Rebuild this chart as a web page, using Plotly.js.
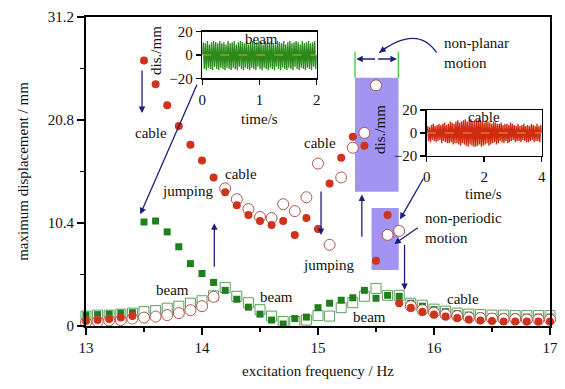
<!DOCTYPE html>
<html>
<head>
<meta charset="utf-8">
<script src="https://cdn.plot.ly/plotly-3.0.1.min.js"></script>
<style>html,body{margin:0;padding:0;background:#fff}#chart{width:565px;height:389px}</style>
</head>
<body>
<div id="chart"></div>
<script>
// Excitation frequency (Hz)
const freq = [13.0,13.1,13.2,13.3,13.4,13.5,13.6,13.7,13.8,13.9,14.0,14.1,14.2,14.3,14.4,14.5,14.6,14.7,14.8,14.9,15.0,15.1,15.2,15.3,15.4,15.5,15.6,15.7,15.8,15.9,16.0,16.1,16.2,16.3,16.4,16.5,16.6,16.7,16.8,16.9,17.0];
// cable, filled circles
const cableDown = [0.5,0.6,0.7,0.85,1.0,26.8,24.4,22.3,20.2,18.3,16.7,15.0,13.5,12.2,11.2,10.6,10.2,10.6,9.2,10.9,9.8,14.4,17.0,19.1,18.2,6.6,11.2,2.3,1.85,1.45,1.15,0.95,0.8,0.65,0.55,0.5,0.45,0.45,0.45,0.45,0.45];
// cable, open circles
const cableUp = [0.35,0.45,0.55,0.6,0.75,0.85,0.95,1.1,1.3,1.6,2.0,2.95,13.9,12.8,11.8,11.0,10.9,12.3,11.6,13.0,16.4,8.2,15.0,18.0,19.5,24.3,9.2,9.6,2.0,1.6,1.35,1.15,1.0,0.85,0.8,0.75,0.7,0.7,0.65,0.65,0.65];
// beam, filled squares
const beamDown = [1.1,1.15,1.2,1.3,1.35,10.5,10.6,9.5,8.0,6.3,5.3,4.4,3.6,2.7,1.9,1.2,0.6,0.2,0.75,0.9,1.85,2.3,2.6,2.85,3.6,2.8,3.1,3.0,2.3,2.0,1.65,1.45,1.25,1.1,1.0,0.95,0.9,0.9,0.9,0.9,0.9];
// beam, open squares
const beamUp = [1.0,1.1,1.1,1.2,1.3,1.45,1.55,1.8,2.0,2.3,2.55,3.05,3.9,3.0,2.35,1.65,1.0,0.45,0.45,0.6,1.05,1.0,1.85,2.35,3.0,3.8,3.1,3.1,2.3,2.1,1.7,1.5,1.3,1.2,1.15,1.1,1.1,1.05,1.05,1.05,1.05];

// inset time histories (dis./mm), read as successive extremes
const beamSig = [0,11,-12,10,-13,12,-11,9,-12,11,-13,12,-10,11,-12,10,-13,12,-11,10,-12,11,-13,9,-11,12,-12,10,-13,11,-11,12,-12,9,-13,11,-10,12,-12,11,-13,10,-11,12,-12,9,-13,11,-11,12,-12,10,-13,11,-10,12,-12,11,-13,9,-11,12,-12,10,-13,11,-11,12,-12,10,-13,9,-10,12,-12,11,-13,10,-11,12,-12,9,-13,11,-11,12,-12,10,-13,11,-10,12,-12,11,-13,9,-11,12,-12,10,-13,11,-11,12,-12,10,-13,11,-10,12,-12,0];
const cableSig = [0,6,-7,5,-8,7,-6,8,-7,6,-8,7,-7,8,-6,7,-9,8,-7,9,-8,7,-9,8,-9,10,-8,9,-10,8,-9,10,-9,11,-10,9,-11,10,-9,11,-10,12,-11,10,-12,11,-10,12,-11,10,-12,11,-12,10,-11,12,-10,11,-12,10,-11,9,-10,11,-9,10,-11,9,-10,8,-9,10,-8,9,-10,8,-9,8,-7,9,-8,7,-9,8,-7,8,-9,7,-8,9,-7,8,-6,7,-8,6,-7,8,-7,6,-8,7,-6,8,-7,6,-8,7,-8,6,-7,8,-6,7,-8,6,-7,8,-7,6,-8,7,0];

const NAVY = '#1b1f7a';
const FONT = "'Liberation Serif', 'Times New Roman', serif";

const traces = [
  {x: freq, y: beamUp, mode: 'markers', type: 'scatter', cliponaxis: false,
   marker: {symbol: 'square', size: 10, color: 'white', line: {color: '#5f9f5f', width: 1}}},
  {x: freq, y: beamDown, mode: 'markers', type: 'scatter', cliponaxis: false,
   marker: {symbol: 'square', size: 7, color: '#1f7f1f', line: {width: 0}}},
  {x: freq, y: cableUp, mode: 'markers', type: 'scatter', cliponaxis: false,
   marker: {symbol: 'circle', size: 11, color: 'white', line: {color: '#b0564a', width: 1}}},
  {x: freq, y: cableDown, mode: 'markers', type: 'scatter', cliponaxis: false,
   marker: {symbol: 'circle', size: 8, color: '#d0321a', line: {width: 0}}},
  // inset 1: beam
  {y: beamSig, x0: 0, dx: 2/(beamSig.length-1), xaxis: 'x2', yaxis: 'y2', mode: 'lines', type: 'scatter',
   line: {color: '#2a8a1a', width: 1.3}},
  {x: [0, 2], y: [0, 0], xaxis: 'x2', yaxis: 'y2', mode: 'lines', type: 'scatter',
   line: {color: '#e0a030', width: 1, dash: 'dash'}},
  // inset 2: cable
  {y: cableSig, x0: 0, dx: 4/(cableSig.length-1), xaxis: 'x3', yaxis: 'y3', mode: 'lines', type: 'scatter',
   line: {color: '#d02a10', width: 1.3}},
  {x: [0, 4], y: [0, 0], xaxis: 'x3', yaxis: 'y3', mode: 'lines', type: 'scatter',
   line: {color: '#e0a030', width: 1, dash: 'dash'}}
];

function arrow(xh, yh, xt, yt, w) {
  return {x: xh, y: yh, ax: xt, ay: yt, xref: 'x', yref: 'y', axref: 'x', ayref: 'y',
    text: '', showarrow: true, arrowhead: 2, arrowsize: 1, arrowwidth: w || 1.3, arrowcolor: NAVY};
}
function label(txt, x, y, opts) {
  return Object.assign({x: x, y: y, xref: 'x', yref: 'y', text: txt, showarrow: false,
    font: {family: FONT, size: 15, color: '#111'}}, opts || {});
}

const annotations = [
  arrow(13.483, 21.5, 13.483, 25.95),
  arrow(13.468, 11.28, 13.962, 24.5),
  arrow(14.106, 10.37, 14.106, 5.83),
  arrow(15.026, 9.19, 15.026, 13.73),
  arrow(15.378, 13.28, 15.378, 8.86),
  arrow(15.707, 10.77, 15.916, 15.04),
  arrow(15.658, 8.28, 15.873, 10.03),
  arrow(15.746, 3.63, 15.746, 8.35),
  arrow(15.33, 26.96, 15.505, 26.96),
  arrow(15.68, 26.96, 15.505, 26.96),
  {x: 15.528, y: 27.6, xref: 'x', yref: 'y', ax: 8, ay: -6, text: '', showarrow: true,
   arrowhead: 2, arrowsize: 1, arrowwidth: 1.3, arrowcolor: NAVY},
  label('cable', 13.56, 19.52),
  label('cable', 14.336, 15.32),
  label('jumping', 13.876, 13.63),
  label('beam', 13.747, 3.63),
  label('beam', 14.638, 2.96),
  label('cable', 15.017, 18.45),
  label('jumping', 15.097, 6.16),
  label('non-periodic<br>motion', 15.908, 9.92, {xanchor: 'left', align: 'left'}),
  label('beam', 15.442, 0.94),
  label('cable', 16.253, 2.70),
  label('non-planar<br>motion', 16.072, 27.56, {xanchor: 'left', align: 'left'}),
  label('beam', 14.509, 28.98),
  label('time/s', 14.494, 20.9),
  label('dis./mm', 13.603, 27.87, {textangle: -90}),
  label('cable', 16.434, 21.13),
  label('time/s', 16.425, 13.35),
  label('dis./mm', 15.528, 19.82, {textangle: -90})
];

const shapes = [
  {type: 'rect', xref: 'x', yref: 'y', x0: 15.319, x1: 15.694, y0: 13.56, y1: 25.07,
   fillcolor: '#a294f2', line: {width: 0}, layer: 'below'},
  {type: 'rect', xref: 'x', yref: 'y', x0: 15.462, x1: 15.696, y0: 5.65, y1: 11.92,
   fillcolor: '#a294f2', line: {width: 0}, layer: 'below'},
  {type: 'line', xref: 'x', yref: 'y', x0: 15.319, x1: 15.319, y0: 25.07, y1: 27.7,
   line: {color: '#3ccc3c', width: 1.3}},
  {type: 'line', xref: 'x', yref: 'y', x0: 15.692, x1: 15.692, y0: 25.07, y1: 27.7,
   line: {color: '#3ccc3c', width: 1.3}},
  {type: 'path', xref: 'x', yref: 'y', path: 'M 16.022,27.6 Q 15.855,30.47 15.528,27.6',
   line: {color: NAVY, width: 1.3}}
];

const axBase = {showgrid: false, zeroline: false, linecolor: 'black', mirror: true,
  ticks: 'outside', tickcolor: 'black', tickfont: {family: FONT, size: 15, color: '#111'}};

const layout = {
  width: 565, height: 389,
  margin: {l: 86, r: 15, t: 17, b: 63},
  paper_bgcolor: 'white', plot_bgcolor: 'white',
  showlegend: false,
  font: {family: FONT, size: 15, color: '#111'},
  xaxis: Object.assign({}, axBase, {range: [13, 17], tick0: 13, dtick: 1, ticklen: 7, tickwidth: 1.5, linewidth: 2,
    minor: {dtick: 0.5, ticklen: 4, ticks: 'outside', tickwidth: 1.5, tickcolor: 'black'},
    title: {text: 'excitation frequency / Hz', font: {family: FONT, size: 15, color: '#111'}, standoff: 10}}),
  yaxis: Object.assign({}, axBase, {range: [0, 31.2], tick0: 0, dtick: 10.4, ticklen: 7, tickwidth: 1.5, linewidth: 2,
    minor: {dtick: 5.2, ticklen: 4, ticks: 'outside', tickwidth: 1.5, tickcolor: 'black'},
    title: {text: 'maximum displacement / mm', font: {family: FONT, size: 15, color: '#111'}, standoff: 16}}),
  xaxis2: Object.assign({}, axBase, {domain: [0.2506, 0.4972], anchor: 'y2', range: [0, 2], dtick: 1,
    ticklen: 5, tickwidth: 1.5, linewidth: 1.5, ticklabelstandoff: 2}),
  yaxis2: Object.assign({}, axBase, {domain: [0.8016, 0.9524], anchor: 'x2', range: [-20, 20], dtick: 20,
    ticklen: 5, tickwidth: 1.5, linewidth: 1.5}),
  xaxis3: Object.assign({}, axBase, {domain: [0.7343, 0.9821], anchor: 'y3', range: [0, 4], dtick: 2,
    ticklen: 5, tickwidth: 1.5, linewidth: 1.5, ticklabelstandoff: 2}),
  yaxis3: Object.assign({}, axBase, {domain: [0.5502, 0.699], anchor: 'x3', range: [-20, 20], dtick: 20,
    ticklen: 5, tickwidth: 1.5, linewidth: 1.5}),
  annotations: annotations,
  shapes: shapes
};

Plotly.newPlot('chart', traces, layout, {displayModeBar: false, staticPlot: true});
</script>
</body>
</html>
